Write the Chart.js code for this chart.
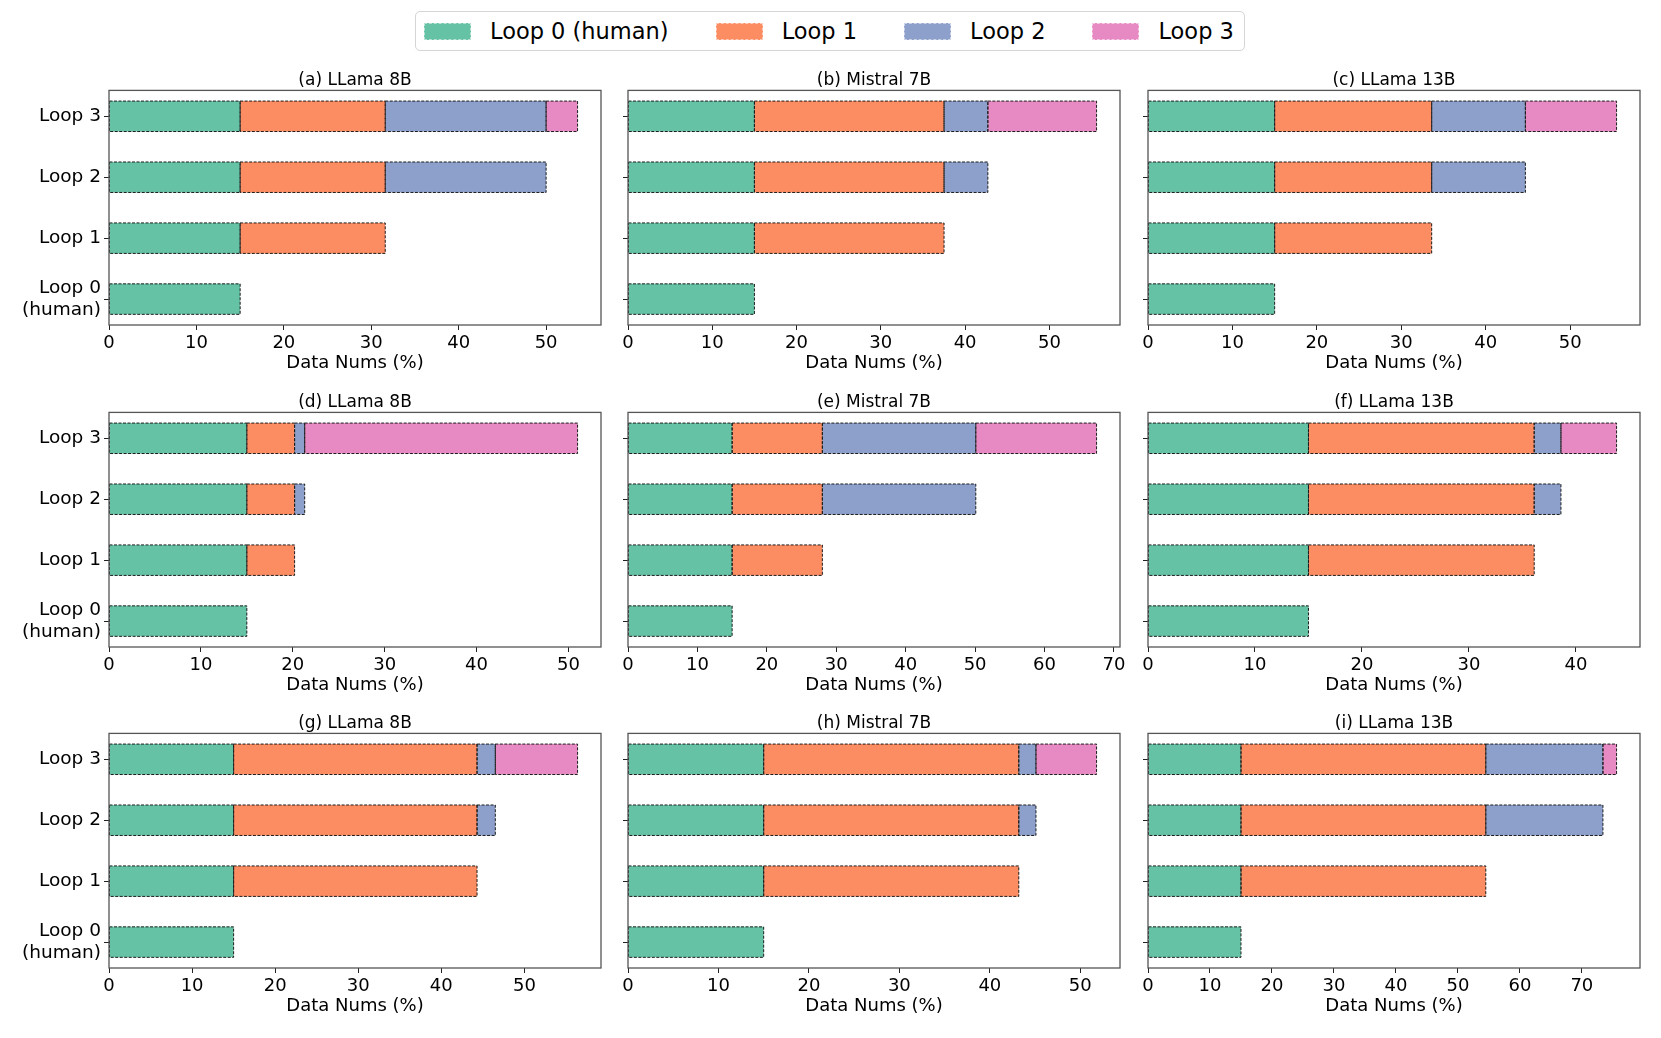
<!DOCTYPE html>
<html>
<head>
<meta charset="utf-8">
<title>Data Nums per loop</title>
<script src="https://cdn.jsdelivr.net/npm/chart.js@4.4.1/dist/chart.umd.min.js"></script>
<style>
  body { margin: 0; background: #fff; font-family: 'DejaVu Sans', sans-serif; }
  #page { position: relative; width: 1661px; height: 1038px; overflow: hidden; }
  #page canvas { position: absolute; }
  #legend {
    position: absolute; left: 415px; top: 11px; height: 40px;
    box-sizing: border-box; border: 1px solid #d5d5d5; border-radius: 5px;
    display: flex; align-items: center; padding: 0 10px 0 8px; background: #fff;
  }
  .item { display: flex; align-items: center; font-size: 22.5px; color: #000; white-space: nowrap; }
  .item + .item { margin-left: 47px; }
  .swatch { width: 47px; height: 17px; margin-right: 19px; box-sizing: border-box; border: 1px dashed rgba(255,255,255,0.55); }
</style>
</head>
<body>
<div id="page">
  <div id="legend"></div>
</div>
<script>
// categories on the y axis (bottom to top)
const categories = [['Loop 0', '(human)'], 'Loop 1', 'Loop 2', 'Loop 3'];
const seriesNames = ['Loop 0 (human)', 'Loop 1', 'Loop 2', 'Loop 3'];
const seriesColors = ['#66c2a5', '#fc8d62', '#8da0cb', '#e78ac3'];
const panelTitles = [
  '(a) LLama 8B', '(b) Mistral 7B', '(c) LLama 13B',
  '(d) LLama 8B', '(e) Mistral 7B', '(f) LLama 13B',
  '(g) LLama 8B', '(h) Mistral 7B', '(i) LLama 13B'
];
// share of data (%) added by each loop, one entry per panel a..i
const loop0Share = [15.0, 15.0, 15.0, 15.0, 15.0, 15.0, 15.0, 15.0, 15.0];
const loop1Share = [16.6, 22.5, 18.6, 5.2, 13.0, 21.1, 29.3, 28.2, 39.5];
const loop2Share = [18.4, 5.2, 11.1, 1.1, 22.1, 2.5, 2.2, 1.9, 18.9];
const loop3Share = [3.6, 12.9, 10.8, 29.7, 17.4, 5.2, 9.9, 6.7, 2.2];
const xTickStep = 10;
const xLabel = 'Data Nums (%)';

// page layout
const plotLefts = [109, 628, 1148];
const rowTops = [90, 412, 733];
const PLOT_W = 492;
const PAD_R = 20;
const TITLE_H = 22.4;
const XAXIS_H = 49;
const CANVAS_H = 306;

Chart.defaults.font.family = "'DejaVu Sans', sans-serif";
Chart.defaults.color = '#000';

// legend
const legend = document.getElementById('legend');
seriesNames.forEach((name, k) => {
  const item = document.createElement('div');
  item.className = 'item';
  item.innerHTML = `<span class="swatch" style="background:${seriesColors[k]}"></span><span>${name}</span>`;
  legend.appendChild(item);
});

// dashed bar edges + axes frame
const outlinePlugin = {
  id: 'outline',
  afterDatasetsDraw(chart) {
    const ctx = chart.ctx;
    ctx.save();
    ctx.strokeStyle = '#1c1c1c';
    ctx.lineWidth = 1;
    ctx.setLineDash([3, 1.5]);
    chart.getSortedVisibleDatasetMetas().forEach(meta => {
      meta.data.forEach(bar => {
        const { x, y, base, height } = bar.getProps(['x', 'y', 'base', 'height'], true);
        ctx.strokeRect(Math.min(base, x), y - height / 2, Math.abs(x - base), height);
      });
    });
    ctx.setLineDash([]);
    const a = chart.chartArea;
    ctx.strokeStyle = '#555';
    ctx.lineWidth = 1.3;
    ctx.strokeRect(a.left, a.top, a.right - a.left, a.bottom - a.top);
    ctx.restore();
  }
};

const shares = [loop0Share, loop1Share, loop2Share, loop3Share];
const page = document.getElementById('page');

panelTitles.forEach((title, p) => {
  const col = p % 3;
  const row = Math.floor(p / 3);
  const yw = col === 0 ? 109 : 20;

  const canvas = document.createElement('canvas');
  const w = yw + PLOT_W + PAD_R;
  canvas.width = w;
  canvas.height = CANVAS_H;
  canvas.style.width = w + 'px';
  canvas.style.height = CANVAS_H + 'px';
  canvas.style.left = (plotLefts[col] - yw) + 'px';
  canvas.style.top = (rowTops[row] - TITLE_H) + 'px';
  page.appendChild(canvas);

  // loop k only exists from category k upward
  const datasets = seriesNames.map((name, k) => ({
    label: name,
    backgroundColor: seriesColors[k],
    borderWidth: 0,
    barPercentage: 0.5,
    categoryPercentage: 1.0,
    data: categories.map((c, i) => ({ x: shares[k][p], y: i })).filter(d => d.y >= k)
  }));

  // matplotlib-like 5% margin on the value axis
  const total = shares.reduce((s, arr) => s + arr[p], 0);
  const xMax = total * 1.05;

  new Chart(canvas, {
    type: 'bar',
    data: { datasets },
    options: {
      indexAxis: 'y',
      responsive: false,
      animation: false,
      events: [],
      layout: { padding: { left: 0, right: PAD_R, top: 0, bottom: 0 } },
      plugins: {
        legend: { display: false },
        tooltip: { enabled: false },
        title: {
          display: true,
          text: title,
          fullSize: false,
          color: '#000',
          font: { size: 17, weight: 'normal' },
          padding: { top: 2, bottom: 0 }
        }
      },
      scales: {
        x: {
          type: 'linear',
          stacked: true,
          min: 0,
          max: xMax,
          border: { display: false },
          grid: { drawOnChartArea: false, drawTicks: true, tickLength: 5, tickColor: '#222', tickWidth: 1 },
          ticks: { stepSize: xTickStep, font: { size: 18 }, padding: 3, color: '#000', maxRotation: 0, autoSkip: false },
          afterBuildTicks: s => {
            const n = Math.floor(xMax / xTickStep + 1e-9);
            s.ticks = Array.from({ length: n + 1 }, (_, i) => ({ value: i * xTickStep }));
          },
          afterFit: s => { s.height = XAXIS_H; },
          title: { display: true, text: xLabel, color: '#000', font: { size: 18 }, padding: { top: 0, bottom: 0 } }
        },
        y: {
          type: 'linear',
          stacked: true,
          offset: false,
          min: -0.425,
          max: categories.length - 1 + 0.425,
          border: { display: false },
          grid: { offset: false, drawOnChartArea: false, drawTicks: true, tickLength: 5, tickColor: '#222', tickWidth: 1 },
          ticks: {
            display: col === 0,
            font: { size: 18.5 },
            padding: 3,
            color: '#000',
            callback: v => categories[v]
          },
          afterBuildTicks: s => { s.ticks = categories.map((c, i) => ({ value: i })); },
          afterFit: s => { s.width = yw; }
        }
      }
    },
    plugins: [outlinePlugin]
  });
});
</script>
</body>
</html>
